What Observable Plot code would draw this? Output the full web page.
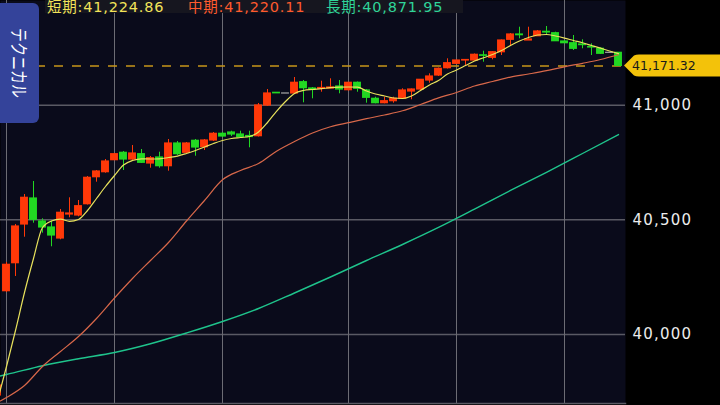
<!DOCTYPE html>
<html><head><meta charset="utf-8">
<script src="https://cdn.jsdelivr.net/npm/d3@7"></script>
<script src="https://cdn.jsdelivr.net/npm/@observablehq/plot@0.6"></script>
<style>
html,body{margin:0;padding:0;background:#000;}
#wrap{position:relative;width:720px;height:405px;overflow:hidden;background:#000;}
#legend{position:absolute;left:45px;top:0;height:13px;width:418px;background:#16161f;}
.lg{position:absolute;top:0px;font-size:14.5px;font-family:"DejaVu Sans","Noto Sans CJK JP",sans-serif;letter-spacing:0.8px;white-space:nowrap;line-height:15px;}
#tab{position:absolute;left:0;top:3px;width:39px;height:120px;background:#34439a;border-radius:0 6px 6px 0;}
#tab span{position:absolute;left:50%;top:50%;transform:translate(-50%,-50%) scaleX(1.3);writing-mode:vertical-rl;text-orientation:sideways;color:#fff;font-size:14px;font-family:"Noto Sans CJK JP",sans-serif;white-space:nowrap;}
.yax text{letter-spacing:1.2px;}
</style>
</head><body>
<div id="wrap"></div>
<script>
// ---- data (candle index -1 .. 68) ----
const openV = [39733.5,40188.6,40310.7,40479.6,40593.0,40492.6,40466.5,40418.5,40523.2,40518.8,40568.1,40685.9,40707.7,40760.1,40792.4,40763.1,40786.3,40745.7,40771.9,40733.9,40832.9,40792.4,40844.7,40816.8,40846.0,40875.3,40880.9,40872.2,40865.6,40864.8,40998.7,41054.1,41051.1,41051.1,41100.4,41072.9,41071.6,41072.9,41081.6,41065.5,41097.8,41064.2,41027.9,41008.8,41017.5,41027.9,41059.8,41068.5,41107.8,41129.6,41161.4,41180.6,41195.0,41195.0,41217.7,41206.8,41231.2,41285.3,41308.5,41282.3,41301.0,41320.2,41314.1,41277.9,41270.5,41264.8,41254.0,41246.1,41228.6,41228.6];
const highV = [39786,40313.8,40479.6,40610.4,40667.2,40504.4,40493.9,40545.0,40596.0,40584.3,40689.0,40715.1,40763.1,40789.3,40798.0,40824.2,40806.8,40776.2,40795.0,40850.4,40841.7,40837.3,40850.4,40850.4,40880.9,40880.9,40886.6,40886.6,40886.6,41007.4,41068.5,41055.4,41051.1,41120.9,41107.8,41077.3,41104.7,41115.2,41107.8,41099.1,41101.2,41068.5,41034.9,41034.9,41034.9,41071.6,41070.7,41112.1,41137.0,41162.3,41202.5,41197.2,41198.1,41223.4,41235.6,41234.3,41284.5,41312.8,41340.3,41340.3,41325.9,41343.4,41318.5,41280.1,41304.1,41285.3,41267.9,41249.6,41228.6,41230.0];
const lowV = [39725,40182.9,40252.7,40424.1,40485.2,40441.6,40382.3,40412.8,40508.8,40513.1,40564.6,40664.1,40703.4,40758.8,40715.1,40758.8,40745.7,40725.2,40725.2,40712.1,40780.6,40789.3,40777.5,40802.4,40841.7,40859.1,40863.5,40857.0,40814.2,40861.3,40994.3,41051.1,41051.1,41046.7,41010.5,41027.9,41056.7,41071.6,41049.8,41062.0,41056.7,41008.8,41006.1,41006.1,41008.8,41024.9,41023.6,41064.2,41096.0,41125.2,41158.0,41177.6,41170.2,41192.9,41187.6,41198.1,41216.8,41258.3,41289.7,41282.3,41299.7,41304.1,41277.9,41269.2,41238.7,41246.1,41216.8,41221.2,41228.6,41170.5];
const closeV = [39777,40303.7,40470.8,40596.0,40500.1,40466.5,40431.6,40530.6,40527.5,40559.4,40683.3,40710.8,40754.4,40786.3,40763.1,40789.3,40748.7,40768.8,40733.9,40832.9,40786.3,40832.9,40815.5,40846.0,40875.3,40863.5,40872.2,40860.4,40861.3,40998.7,41051.1,41052.0,41051.1,41097.8,41074.2,41069.8,41075.1,41077.3,41068.5,41097.8,41071.6,41032.3,41008.8,41017.5,41027.9,41064.2,41068.5,41110.8,41125.2,41158.8,41183.3,41195.0,41197.2,41219.9,41215.5,41231.2,41282.3,41308.5,41305.4,41286.7,41321.6,41317.2,41279.2,41270.5,41246.1,41262.2,41251.8,41224.3,41228.6,41171.32];

// moving averages
const shortMA = [39711.7,39860.1,40017.1,40182.9,40331.2,40466.5,40494.8,40502.7,40493.5,40501.4,40540.6,40593.0,40645.3,40693.3,40739.1,40758.8,40766.2,40765.3,40766.2,40771.9,40778.0,40789.3,40802.4,40817.7,40832.9,40846.0,40854.7,40859.1,40863.5,40883.1,40924.6,40973.4,41016.2,41051.1,41064.2,41068.5,41072.0,41076.4,41078.6,41079.4,41078.6,41062.0,41048.9,41040.2,41031.4,41029.3,41040.2,41064.2,41088.2,41107.8,41136.1,41153.6,41173.2,41192.9,41206.8,41221.2,41238.7,41260.5,41280.1,41295.4,41306.3,41308.5,41301.9,41292.8,41282.3,41272.3,41260.5,41248.7,41236.5,41224.86];
const midIdx = [-1,0,2,4,6,8,10,12,14,16,18,20,22,24,26,28,30,32,34,36,38,40,42,44,46,48,50,52,54,56,58,60,62,64,66,68];
const midMA = [39703.0,39724.8,39777.2,39860.1,39925.5,39990.9,40069.5,40158.9,40244.0,40322.5,40401.0,40494.8,40584.3,40674.6,40715.1,40745.7,40799.3,40841.7,40878.7,40905.8,40923.7,40941.1,40957.3,40975.6,41003.1,41031.9,41055.4,41083.8,41103.4,41122.6,41136.1,41150.5,41167.6,41182.8,41199.4,41220.11];
const longIdx = [-1,0,4,8,12,16,20,24,28,32,36,40,44,48,52,56,60,64,68];
const longMA = [39816.4,39825.2,39863.5,39894.1,39921.1,39959.1,40006.2,40056.4,40113.1,40180.7,40250.5,40322.5,40392.3,40466.5,40546.3,40627.9,40707.3,40789.3,40871.95];

const yTicks = [40000, 40500, 41000];
const vGrid = [0, 12, 24, 38, 50, 62];
const legendItems = [
  {label: "短期", value: 41224.86, color: "#f2e35a", left: 47},
  {label: "中期", value: 41220.11, color: "#ff5a2e", left: 188},
  {label: "長期", value: 40871.95, color: "#2fd49a", left: 326}
];
const tabLabel = "テクニカル";
const lastClose = closeV[closeV.length - 1];

// ---- build ----
const candles = openV.map((o, k) => ({i: k - 1, open: o, high: highV[k], low: lowV[k], close: closeV[k]}));
const colorOf = d => d.close > d.open ? "#ff3808" : d.close < d.open ? "#22d822" : "#a8a8a8";
const shortData = shortMA.map((v, k) => ({i: k - 1, v}));
const midData = midMA.map((v, k) => ({i: midIdx[k], v}));
const longData = longMA.map((v, k) => ({i: longIdx[k], v}));

const chart = Plot.plot({
  width: 720, height: 405,
  marginLeft: 0, marginRight: 95, marginTop: 0, marginBottom: 2,
  style: {background: "#000", fontFamily: "DejaVu Sans", overflow: "hidden"},
  x: {domain: [-6/9, 619/9], axis: null},
  y: {domain: [39698.6, 41456.8], axis: null},
  marks: [
    Plot.frame({fill: "#0a0b1b", stroke: null}),
    Plot.gridY(yTicks, {stroke: "#5a5a64", strokeOpacity: 1, strokeWidth: 1.5}),
    Plot.ruleX(vGrid, {stroke: "#6c6c74", strokeWidth: 1}),
    Plot.frame({anchor: "bottom", stroke: "#5a5a64", strokeWidth: 1.5}),
    Plot.ruleY([lastClose], {stroke: "#c8961a", strokeDasharray: "9,9", strokeWidth: 1.5}),
    Plot.ruleX(candles, {x: "i", y1: "low", y2: "high", stroke: colorOf, strokeWidth: 1}),
    Plot.rect(candles, {x1: d => d.i - 0.44, x2: d => d.i + 0.44, y1: "open", y2: "close", fill: colorOf, insetTop: -0.6, insetBottom: -0.6}),
    Plot.line(longData, {x: "i", y: "v", stroke: "#1fc48c", strokeWidth: 1.4, curve: "monotone-x"}),
    Plot.line(midData, {x: "i", y: "v", stroke: "#d8684a", strokeWidth: 1.2, curve: "monotone-x"}),
    Plot.line(shortData, {x: "i", y: "v", stroke: "#e8e25c", strokeWidth: 1.2, curve: "monotone-x"}),
    Plot.axisY(yTicks, {anchor: "right", tickSize: 0, tickPadding: 7, tickFormat: d3.format(","), fontSize: 15, fill: "#ececec", className: "yax"})
  ]
});

const wrap = document.getElementById("wrap");
wrap.appendChild(chart);

// price tag on the right axis, positioned through the scales
const ys = chart.scale("y"), xs = chart.scale("x");
const py = ys.apply(lastClose);
const px = xs.range[1] - 1;
const svg = d3.select(chart);
const tag = svg.append("g");
tag.append("path")
  .attr("d", `M${px},${py} L${px+10},${py-10} Q${px+12},${py-11} ${px+15},${py-11} L${px+110},${py-11} L${px+110},${py+11} L${px+15},${py+11} Q${px+12},${py+11} ${px+10},${py+10} Z`)
  .attr("fill", "#f3c20a");
tag.append("text")
  .attr("x", px + 8).attr("y", py + 4.5)
  .attr("text-anchor", "start")
  .attr("font-family", "DejaVu Sans").attr("font-size", 12.5)
  .attr("fill", "#1a1a1a")
  .text(d3.format(",.2f")(lastClose));

// legend overlay
const lg = document.createElement("div");
lg.id = "legend";
wrap.appendChild(lg);
legendItems.forEach(it => {
  const s = document.createElement("div");
  s.className = "lg";
  s.style.left = it.left + "px";
  s.style.color = it.color;
  s.textContent = it.label + ":" + d3.format(",.2f")(it.value);
  wrap.appendChild(s);
});

// left tab
const tab = document.createElement("div");
tab.id = "tab";
const sp = document.createElement("span");
sp.textContent = tabLabel;
tab.appendChild(sp);
wrap.appendChild(tab);
</script>
</body></html>
